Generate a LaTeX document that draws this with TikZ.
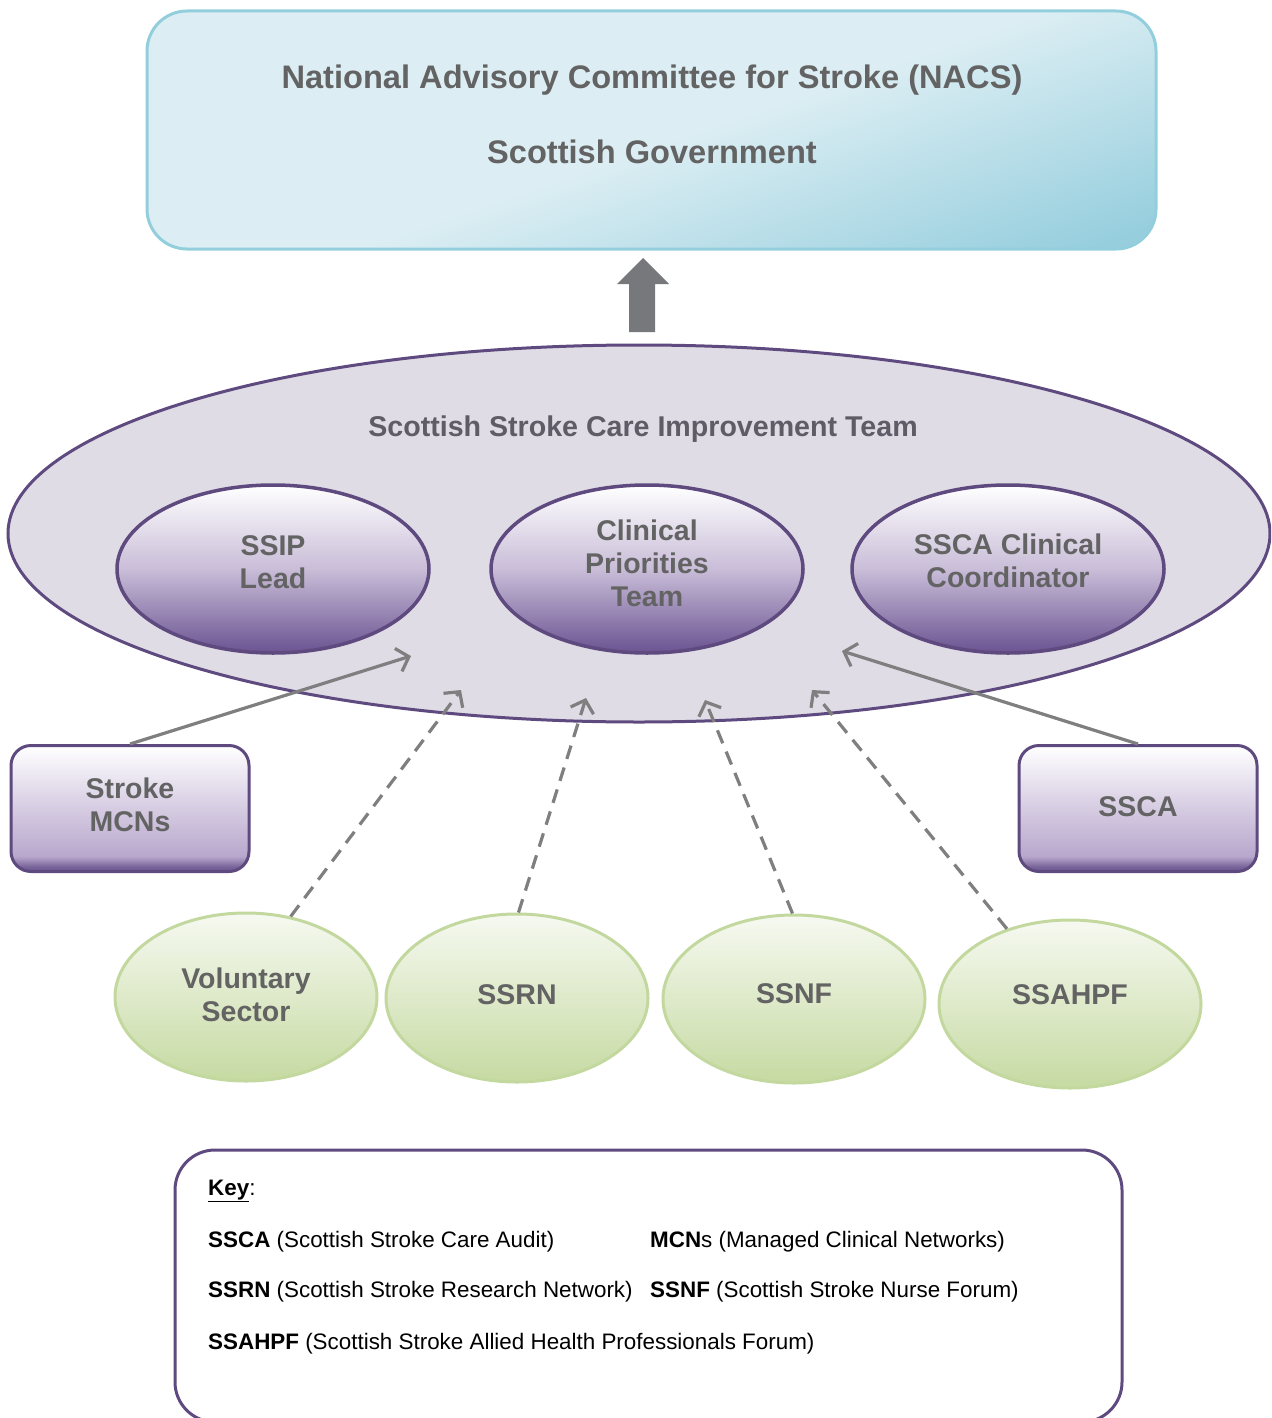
\documentclass[tikz,border=0pt]{standalone}
\usepackage{fontspec}
\setmainfont{Liberation Sans}
\usetikzlibrary{shapes.geometric,arrows.meta}
\definecolor{tgray}{HTML}{636363}
\definecolor{tgrayp}{HTML}{5F5C68}
\definecolor{pborder}{HTML}{5E4A7F}
\definecolor{bigfill}{HTML}{DFDCE6}
\definecolor{pdark}{HTML}{6A5391}
\definecolor{pdarkb}{HTML}{7A659A}
\definecolor{pmid}{HTML}{C9BDD8}
\definecolor{pbox}{HTML}{B8A7CC}
\definecolor{pboxmid}{HTML}{D6CCE2}
\definecolor{bborder}{HTML}{93CEDD}
\definecolor{blight}{HTML}{DCEEF3}
\definecolor{bdark}{HTML}{96CEDE}
\definecolor{gborder}{HTML}{C3D89E}
\definecolor{gtop}{HTML}{F6F9F1}
\definecolor{gbot}{HTML}{C6DAA2}
\definecolor{agray}{HTML}{7F7F7F}
\definecolor{bgray}{HTML}{77787B}
\definecolor{white}{HTML}{FFFFFF}
\pgfdeclareverticalshading{pellshade}{100bp}{color(0bp)=(pdark); color(25bp)=(pdark); color(50bp)=(pmid); color(75bp)=(white); color(100bp)=(white)}
\pgfdeclareverticalshading{pboxshade}{100bp}{color(0bp)=(pdark); color(25bp)=(pdark); color(27bp)=(pdarkb); color(31bp)=(pbox); color(50bp)=(pboxmid); color(75bp)=(white); color(100bp)=(white)}
\pgfdeclareverticalshading{gshade}{100bp}{color(0bp)=(gbot); color(25bp)=(gbot); color(75bp)=(gtop); color(100bp)=(gtop)}
\begin{document}
\begin{tikzpicture}[x=1pt,y=-1pt,
  lbl/.style={text=tgray, font=\fontsize{28.5}{33}\selectfont\bfseries, align=center, inner sep=0pt},
  pell/.style={ellipse, draw=pborder, line width=3.5pt, shade, shading=pellshade,
    minimum width=312pt, minimum height=168pt},
  pboxst/.style={rectangle, rounded corners=20pt, draw=pborder, line width=3pt, shade, shading=pboxshade,
    minimum width=238pt, minimum height=126pt},
  gell/.style={ellipse, draw=gborder, line width=3pt, shade, shading=gshade,
    minimum width=262pt, minimum height=168pt},
  conn/.style={draw=agray, line width=3.2pt, -{Straight Barb[length=11pt,width=24pt]}},
  dconn/.style={conn, dash pattern=on 14pt off 9pt},
  keytxt/.style={anchor=base west, inner sep=0pt, font=\fontsize{22.4}{26}\selectfont, text=black}
]
\useasboundingbox (0,0) rectangle (1271,1418);
\clip (0,0) rectangle (1271,1418);

% top box gradient
\begin{scope}
  \clip[rounded corners=40pt] (147,11) rectangle (1156,249);
  \fill[blight] (147,11) rectangle (1156,249);
  \begin{scope}[transform canvas={rotate around={19:(651.5,130)}}]
    \shade[top color=blight, bottom color=bdark] (-300,145) rectangle (1600,385);
    \fill[bdark] (-300,384) rectangle (1600,900);
  \end{scope}
\end{scope}
\node[rectangle, rounded corners=40pt, draw=bborder, line width=3pt,
  minimum width=1009pt, minimum height=238pt] (nacs) at (651.5,130) {};
\node[lbl, font=\fontsize{32.6}{38}\selectfont\bfseries, anchor=base] (nacs1) at (652,89) {National Advisory Committee for Stroke (NACS)};
\node[lbl, font=\fontsize{32.6}{38}\selectfont\bfseries, anchor=base] (nacs2) at (652,163) {Scottish Government};

% block arrow
\fill[bgray] (629,332) -- (629,284) -- (617,284) -- (643,258) -- (669,284) -- (655,284) -- (655,332) -- cycle;

% big ellipse
\node[ellipse, draw=pborder, line width=3pt, fill=bigfill, minimum width=1262pt, minimum height=377pt] (ssci) at (639,533.5) {};
\node[lbl, font=\fontsize{28.6}{33}\selectfont\bfseries, text=tgrayp, anchor=base] (sscit) at (643,436) {Scottish Stroke Care Improvement Team};

% inner ellipses
\node[pell] (ssip) at (273,569) {};
\node[pell] (cpt) at (647,569) {};
\node[pell] (sscc) at (1008,569) {};
\node[lbl] (ssipT) at ([yshift=7pt]ssip.center) {SSIP\\Lead};
\node[lbl] (cptT) at ([yshift=6pt]cpt.center) {Clinical\\Priorities\\Team};
\node[lbl] (ssccT) at ([yshift=8pt]sscc.center) {SSCA Clinical\\Coordinator};

% connector end points
\coordinate (e1) at (411,656);
\coordinate (e2) at (461,690);
\coordinate (e3) at (586,698);
\coordinate (e4) at (705,700);
\coordinate (e5) at (812,690);
\coordinate (e6) at (842,651);

% boxes
\node[pboxst] (mcn) at (130,808.5) {};
\node[pboxst] (ssca) at (1138,808.5) {};
\node[lbl] (mcnT) at ([yshift=4pt]mcn.center) {Stroke\\MCNs};
\node[lbl] (sscaT) at ([yshift=2pt]ssca.center) {SSCA};

% green ellipses
\node[gell] (vol) at (246,997) {};
\node[gell] (ssrn) at (517,998) {};
\node[gell] (ssnf) at (794,999) {};
\node[gell] (ssah) at (1070,1004) {};
\node[lbl] (volT) at ([yshift=2pt]vol.center) {Voluntary\\Sector};
\node[lbl] (ssrnT) at ([yshift=3pt]ssrn.center) {SSRN};
\node[lbl] (ssnfT) at ([yshift=5pt]ssnf.center) {SSNF};
\node[lbl] (ssahT) at ([yshift=9pt]ssah.center) {SSAHPF};

% connectors
\draw[conn] (mcn.north) -- (e1);
\draw[conn] (ssca.north) -- (e6);
\draw[dconn] (vol.61) -- (e2);
\draw[dconn] (ssrn.89) -- (e3);
\draw[dconn] (ssnf.91) -- (e4);
\draw[dconn] (ssah.130) -- (e5);

% key
\node[rectangle, rounded corners=40pt, draw=pborder, line width=3pt, fill=white,
  minimum width=947pt, minimum height=272pt] (key) at (648.5,1286) {};
\node[keytxt] (k0) at (208,1195) {\textbf{\underline{Key}}:};
\node[keytxt] (k1) at (208,1247) {\textbf{SSCA} (Scottish Stroke Care Audit)};
\node[keytxt] (k2) at (650,1247) {\textbf{MCN}s (Managed Clinical Networks)};
\node[keytxt] (k3) at (208,1297) {\textbf{SSRN} (Scottish Stroke Research Network)};
\node[keytxt] (k4) at (650,1297) {\textbf{SSNF} (Scottish Stroke Nurse Forum)};
\node[keytxt] (k5) at (208,1349) {\textbf{SSAHPF} (Scottish Stroke Allied Health Professionals Forum)};
\end{tikzpicture}
\end{document}
